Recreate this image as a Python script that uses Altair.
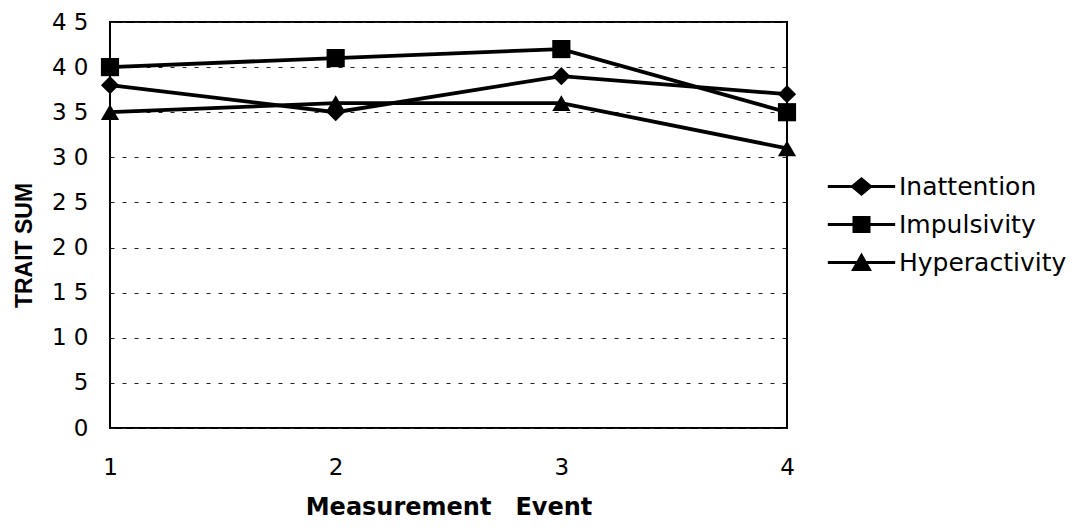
import altair as alt
import pandas as pd

# ---- data ----
events = [1, 2, 3, 4]
series_names = ["Inattention", "Impulsivity", "Hyperactivity"]
inattention = [38, 35, 39, 37]
impulsivity = [40, 41, 42, 35]
hyperactivity = [35, 36, 36, 31]
y_ticks = [0, 5, 10, 15, 20, 25, 30, 35, 40, 45]
x_ticks = [1, 2, 3, 4]

rows = []
for name, vals in zip(series_names, [inattention, impulsivity, hyperactivity]):
    for e, v in zip(events, vals):
        rows.append({"event": e, "trait": name, "value": v})
df = pd.DataFrame(rows)

FONT = "DejaVu Sans"
FONT_Y_TITLE = "Liberation Sans"

# marker shapes for the plot
plot_shapes = ["diamond", "square", "triangle-up"]
# legend symbols: a short line through the marker (Excel-style), all filled
legend_paths = [
    "M-3.55,-0.16L3.55,-0.16L3.55,0.16L-3.55,0.16ZM-1.2,0L0,-1L1.2,0L0,1Z",
    "M-3.55,-0.16L3.55,-0.16L3.55,0.16L-3.55,0.16ZM-0.95,-0.9L0.95,-0.9L0.95,0.9L-0.95,0.9Z",
    "M-3.55,-0.16L3.55,-0.16L3.55,0.16L-3.55,0.16ZM0,-1.05L1.1,0.9L-1.1,0.9Z",
]

x_enc = alt.X(
    "event:Q",
    scale=alt.Scale(domain=[1, 4], nice=False, zero=False),
    axis=alt.Axis(
        values=x_ticks, format="d", title="Measurement\u2003Event",
        grid=False, ticks=False, tickSize=0, domain=False,
        labelFont=FONT, labelFontSize=23, labelColor="black", labelPadding=28,
        labelFlush=False,
        titleFont=FONT, titleFontSize=24, titleFontWeight="bold", titleColor="black",
        titleY=79, titleBaseline="middle",
    ),
)
y_enc = alt.Y(
    "value:Q",
    scale=alt.Scale(domain=[0, 45], nice=False),
    axis=alt.Axis(
        values=y_ticks, title="TRAIT SUM",
        grid=True, gridColor="#222222", gridDash=[4, 8], gridWidth=1.2,
        ticks=False, tickSize=0, domain=False,
        labelFont=FONT, labelFontSize=23, labelColor="black", labelPadding=22,
        labelExpr="datum.value >= 10 ? slice(datum.label, 0, 1) + ' ' + slice(datum.label, 1) : datum.label",
        titleFont=FONT_Y_TITLE, titleFontSize=23, titleFontWeight="bold", titleColor="black",
        titleX=-86, titleY=223, titleBaseline="middle", titleAlign="center", titleAngle=270,
    ),
)

base = alt.Chart(df)

lines = base.mark_line(color="black", strokeWidth=3.8).encode(
    x=x_enc, y=y_enc, detail="trait:N"
)

points = base.mark_point(filled=True, color="black", opacity=1, size=330).encode(
    x=x_enc,
    y=y_enc,
    shape=alt.Shape(
        "trait:N",
        scale=alt.Scale(domain=series_names, range=plot_shapes),
        legend=None,
    ),
)

legend_layer = base.mark_point(filled=True, color="black", opacity=0, size=360).encode(
    x=x_enc,
    y=y_enc,
    shape=alt.Shape(
        "trait:N",
        scale=alt.Scale(domain=series_names, range=legend_paths),
        legend=alt.Legend(
            title=None, orient="none", legendX=739, legendY=152,
            labelFont=FONT, labelFontSize=25, labelColor="black", labelLimit=500,
            labelOffset=25, rowPadding=12, symbolSize=360,
            symbolFillColor="black", symbolStrokeColor="black",
            symbolStrokeWidth=0, symbolOpacity=1, padding=0,
        ),
    ),
)

chart = (
    alt.layer(lines, points, legend_layer)
    .resolve_scale(shape="independent")
    .properties(
        width=677, height=406,
        autosize=alt.AutoSizeParams(type="none"),
        padding={"left": 110, "top": 22, "right": 301, "bottom": 100},
        background="white",
    )
    .configure_view(stroke="black", strokeWidth=2)
)

chart.save("out.html", embed_options={"renderer": "svg", "actions": False})
